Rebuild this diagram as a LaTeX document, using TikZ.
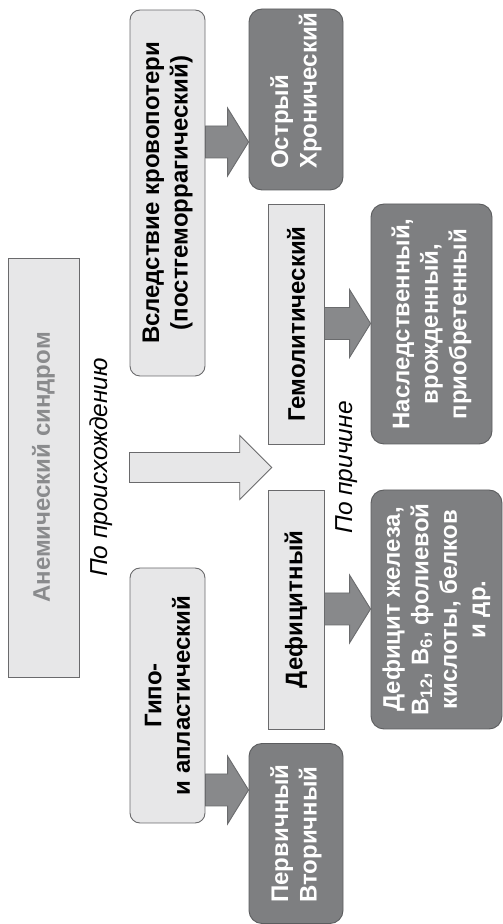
\documentclass[tikz,border=0pt]{standalone}
\usepackage{fontspec}
\setmainfont{Liberation Sans}
\usetikzlibrary{calc}
\definecolor{lfill}{HTML}{E7E7E8}
\definecolor{lborder}{HTML}{6A6A6C}
\definecolor{dfill}{HTML}{7E7F81}
\definecolor{dborder}{HTML}{5C5D5F}
\definecolor{afill}{HTML}{88898B}
\definecolor{aborder}{HTML}{6A6B6D}
\definecolor{gtext}{HTML}{8A8B8D}
\newcommand\barrow[4]{%
  \draw[#1] let \p1=(#2.south), \p2=(#3.north) in
    (\x1,#4-16) -- (\x2-21,#4-16) -- (\x2-21,#4-34) -- (\x2,#4) --
    (\x2-21,#4+34) -- (\x2-21,#4+16) -- (\x1,#4+16) -- cycle;}
\begin{document}
\begin{tikzpicture}[x=1pt,y=1pt,
  boxfont/.style={font=\bfseries\fontsize{24}{28.5}\selectfont},
  lbox/.style={boxfont, draw=lborder, fill=lfill, line width=0.9pt, rotate=90,
    inner sep=0pt, align=center},
  lround/.style={lbox, rounded corners=10pt},
  dbox/.style={boxfont, draw=dborder, fill=dfill, text=white, line width=0.9pt,
    rotate=90, inner sep=0pt, align=center, rounded corners=13pt},
  lab/.style={font=\itshape\fontsize{24.5}{28}\selectfont, rotate=90, inner sep=0pt},
  darr/.style={fill=afill, draw=aborder, line width=0.9pt, line join=miter},
  harr/.style={fill=lfill, draw=lborder, line width=0.9pt, line join=miter}]
\useasboundingbox (0,0) rectangle (503,924);

% main box
\node[lbox, text=gtext, minimum width=419pt, minimum height=71pt] (main) at (43.5,456.5) {Анемический синдром};

% level 1
\node[lround, minimum width=366pt, minimum height=75pt] (blood) at (167.5,731) {Вследствие кровопотери\\(постгеморрагический)};
\node[lround, minimum width=255pt, minimum height=75pt] (hypo) at (167.5,228.5) {Гипо-\\и апластический};

% level 2
\node[lbox, minimum width=240pt, minimum height=56pt] (hemo) at (296,600) {Гемолитический};
\node[lbox, minimum width=239pt, minimum height=56pt] (defi) at (296,314.5) {Дефицитный};

% dark boxes
\node[dbox, align=left, minimum width=181pt, minimum height=94pt] (acute) at (296,824.5) {Острый\\Хронический\hspace*{-18pt}};
\node[dbox, align=left, minimum width=180pt, minimum height=94pt] (prim) at (296,90.5) {Первичный\\Вторичный};
\node[dbox, minimum width=240pt, minimum height=121pt] (hered) at (431.5,600) {Наследственный,\\врожденный,\\приобретенный};
\node[dbox, minimum width=239pt, minimum height=131pt] (iron) at (436.5,314.5) {Дефицит железа,\\B\textsubscript{12}, B\textsubscript{6}, фолиевой\\кислоты, белков\\и др.};

% labels
\node[lab] (lorig) at (101.5,456.5) {По происхождению};
\node[lab] (lcause) at (346.5,456.5) {По причине};

% dark arrows
\barrow{darr}{blood}{acute}{782}
\barrow{darr}{hypo}{prim}{134}
\barrow{darr}{hemo}{hered}{600.5}
\barrow{darr}{defi}{iron}{315}

% hollow arrow
\coordinate (htail) at (129.5,456.5);
\coordinate (htip) at (271.7,456.5);
\draw[harr] let \p1=(htail), \p2=(htip) in
  (\x1,\y1-15) -- (\x2-32,\y1-15) -- (\x2-32,\y1-32) -- (\x2,\y2) --
  (\x2-32,\y1+32) -- (\x2-32,\y1+15) -- (\x1,\y1+15) -- cycle;
\end{tikzpicture}
\end{document}
